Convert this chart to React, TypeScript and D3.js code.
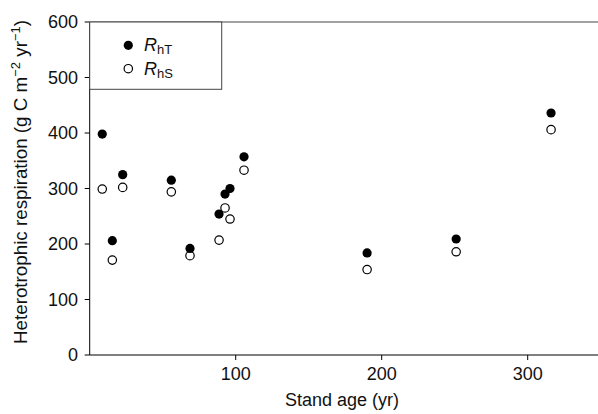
import React from 'react';
import * as d3 from 'd3';

const standAge = [8.6, 15.5, 22.6, 55.9, 68.7, 88.6, 92.7, 96.1, 105.7, 190, 251, 316];
const rhT = [398, 206, 325, 315, 192, 254, 290, 300, 357, 184, 209, 436];
const rhS = [299, 171, 302, 294, 179, 207, 265, 245, 333, 154, 186, 406];
const xTicks = [100, 200, 300];
const yTicks = [0, 100, 200, 300, 400, 500, 600];

const W = 598;
const H = 414;
const FONT = "'Liberation Sans', Arial, Helvetica, sans-serif";

export default function App() {
  const x = d3.scaleLinear().domain([0, 350]).range([89.7, 600.7]);
  const y = d3.scaleLinear().domain([0, 600]).range([355, 22]);
  const x0 = x(0);
  const yBottom = y(0);
  const yTop = y(600);

  return (
    <svg width={W} height={H} style={{ position: 'absolute', left: 0, top: 0, background: '#fff' }} fontFamily={FONT}>
      <rect x={0} y={0} width={W} height={H} fill="#fff" />
      {/* frame */}
      <line x1={x0} x2={W} y1={yTop} y2={yTop} stroke="#444" strokeWidth={1} />
      <line x1={x0} x2={W} y1={yBottom} y2={yBottom} stroke="#000" strokeWidth={1} />
      <line x1={x0} x2={x0} y1={yTop} y2={yBottom} stroke="#000" strokeWidth={1} />
      {/* y ticks */}
      {yTicks.map((t) => (
        <g key={'y' + t}>
          <line x1={x0 - 5} x2={x0} y1={y(t)} y2={y(t)} stroke="#000" />
          <text x={78} y={y(t)} dy="0.36em" textAnchor="end" fontSize={18} fill="#111">{t}</text>
        </g>
      ))}
      {/* x ticks */}
      {xTicks.map((t) => (
        <g key={'x' + t}>
          <line x1={x(t)} x2={x(t)} y1={yBottom} y2={yBottom + 5} stroke="#000" />
          <text x={x(t)} y={380} textAnchor="middle" fontSize={18} fill="#111">{t}</text>
        </g>
      ))}
      {/* axis titles */}
      <text x={342} y={406} textAnchor="middle" fontSize={18} fill="#111">Stand age (yr)</text>
      <text transform="translate(26.5,182) rotate(-90)" textAnchor="middle" fontSize={18.8} fill="#111">
        Heterotrophic respiration (g C m
        <tspan fontSize={13} dy={-7}>−2</tspan>
        <tspan dy={7}> yr</tspan>
        <tspan fontSize={13} dy={-7}>−1</tspan>
        <tspan dy={7}>)</tspan>
      </text>
      {/* data */}
      {standAge.map((a, i) => (
        <circle key={'s' + i} cx={x(a)} cy={y(rhS[i])} r={4.2} fill="#fff" stroke="#000" strokeWidth={1.2} />
      ))}
      {standAge.map((a, i) => (
        <circle key={'t' + i} cx={x(a)} cy={y(rhT[i])} r={4.6} fill="#000" />
      ))}
      {/* legend */}
      <rect x={x0} y={yTop} width={132} height={67.3} fill="#fff" stroke="#444" strokeWidth={1} />
      <circle cx={128.3} cy={45.3} r={4.6} fill="#000" />
      <circle cx={128.3} cy={68.7} r={4.2} fill="#fff" stroke="#000" strokeWidth={1.2} />
      <text x={144} y={51} fontSize={18} fill="#111">
        <tspan fontStyle="italic">R</tspan>
        <tspan fontSize={13} dy={3}>hT</tspan>
      </text>
      <text x={144} y={74.5} fontSize={18} fill="#111">
        <tspan fontStyle="italic">R</tspan>
        <tspan fontSize={13} dy={3}>hS</tspan>
      </text>
    </svg>
  );
}
